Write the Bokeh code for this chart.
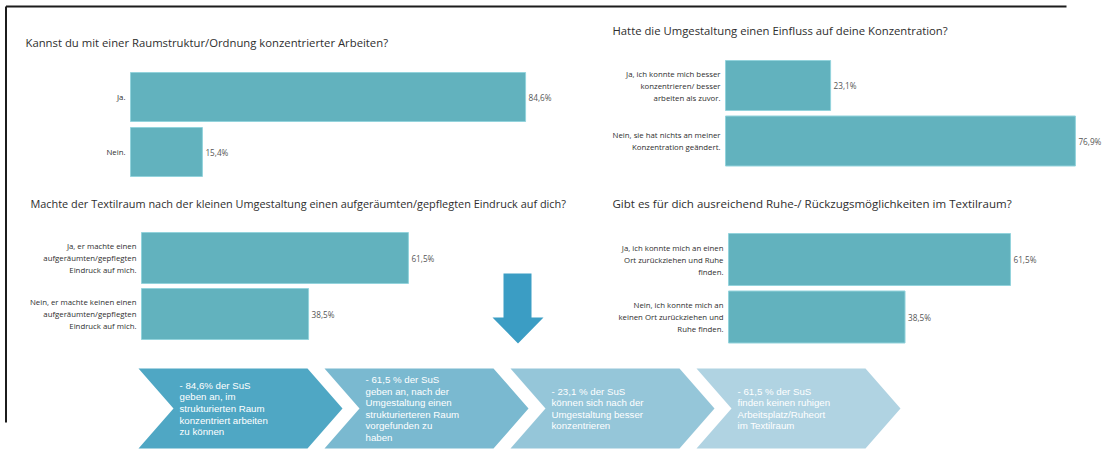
from bokeh.plotting import figure
from bokeh.models import Range1d, Label, ColumnDataSource
from bokeh.embed import file_html
from bokeh.resources import INLINE
from bokeh.core.properties import value

# ---------------- data ----------------
q1_title = "Kannst du mit einer Raumstruktur/Ordnung konzentrierter Arbeiten?"
q1_cats = ["Ja.", "Nein."]
q1_vals = [84.6, 15.4]

q2_title = "Hatte die Umgestaltung einen Einfluss auf deine Konzentration?"
q2_cats = ["Ja, ich konnte mich besser\nkonzentrieren/ besser\narbeiten als zuvor.",
           "Nein, sie hat nichts an meiner\nKonzentration geändert."]
q2_vals = [23.1, 76.9]

q3_title = ("Machte der Textilraum nach der kleinen Umgestaltung einen "
            "aufgeräumten/gepflegten Eindruck auf dich?")
q3_cats = ["Ja, er machte einen\naufgeräumten/gepflegten\nEindruck auf mich.",
           "Nein, er machte keinen einen\naufgeräumten/gepflegten\nEindruck auf mich."]
q3_vals = [61.5, 38.5]

q4_title = "Gibt es für dich ausreichend Ruhe-/ Rückzugsmöglichkeiten im Textilraum?"
q4_cats = ["Ja, ich konnte mich an einen\nOrt zurückziehen und Ruhe\nfinden.",
           "Nein, ich konnte mich an\nkeinen Ort zurückziehen und\nRuhe finden."]
q4_vals = [61.5, 38.5]

summary_texts = [
    "- 84,6% der SuS\ngeben an, im\nstrukturierten Raum\nkonzentriert arbeiten\nzu können",
    "- 61,5 % der SuS\ngeben an, nach der\nUmgestaltung einen\nstrukturierteren Raum\nvorgefunden zu\nhaben",
    "- 23,1 % der SuS\nkönnen sich nach der\nUmgestaltung besser\nkonzentrieren",
    "- 61,5 % der SuS\nfinden keinen ruhigen\nArbeitsplatz/Ruheort\nim Textilraum",
]
summary_colors = ["#4fa7c4", "#7ab9d0", "#95c6d9", "#b0d3e2"]

# ---------------- styles ----------------
BAR = "#62b2be"
ARROW = "#3b9dc4"
TXT = "#2e2e2e"
FRAME = "#1c1c1c"
FONT = "Open Sans"

W, H = 1106, 452
FX, FY = 5.5, 6          # frame line positions

# one canvas; default ranges are pixel space of the canvas (y downwards)
p = figure(width=W, height=H, x_range=Range1d(0, W), y_range=Range1d(H, 0),
           output_backend="svg", toolbar_location=None, min_border=0,
           x_axis_location=None, y_axis_location=None)
p.grid.visible = False
p.outline_line_color = None
p.background_fill_color = "white"
p.border_fill_color = "white"


def bar_chart(key, title, cats, vals, bar_left, ppp, c1, step, bar_px, title_xy, title_size):
    # each chart gets its own value scale (x) and category scale (y)
    xr, yr = key + "_x", key + "_y"
    p.extra_x_ranges[xr] = Range1d(-bar_left / ppp, (W - bar_left) / ppp)
    p.extra_y_ranges[yr] = Range1d(-(H - c1) / step, c1 / step)
    src = ColumnDataSource(dict(
        y=[-i for i in range(len(cats))], v=vals, cat=cats,
        lab=[f"{v:.1f}%".replace(".", ",") for v in vals]))
    p.hbar(y="y", left=0, right="v", height=bar_px / step, source=src,
           fill_color=BAR, line_color="#93d3dc", line_width=1,
           x_range_name=xr, y_range_name=yr)
    p.text(x=0, y="y", text="cat", source=src, x_offset=-5, text_align="right",
           text_baseline="middle", text_font=value(FONT), text_font_size="7.8px",
           text_line_height=1.2, text_color=TXT, x_range_name=xr, y_range_name=yr)
    p.text(x="v", y="y", text="lab", source=src, x_offset=3, text_align="left",
           text_baseline="middle", text_font=value(FONT), text_font_size="8.2px",
           text_color="#555555", x_range_name=xr, y_range_name=yr)
    tx, ty = title_xy
    p.add_layout(Label(x=tx, y=H - ty, x_units="screen", y_units="screen",
                       text=title, text_baseline="middle", text_align="left",
                       text_font=FONT, text_font_size=title_size, text_color=TXT))


bar_chart("q1", q1_title, q1_cats, q1_vals, bar_left=130, ppp=4.67, c1=96.5, step=55,
          bar_px=49, title_xy=(25, 42), title_size="11.3px")
bar_chart("q2", q2_title, q2_cats, q2_vals, bar_left=725, ppp=4.55, c1=85, step=55.5,
          bar_px=50, title_xy=(612, 30), title_size="11.3px")
bar_chart("q3", q3_title, q3_cats, q3_vals, bar_left=141, ppp=4.34, c1=257.5, step=56,
          bar_px=51, title_xy=(30, 203), title_size="10.9px")
bar_chart("q4", q4_title, q4_cats, q4_vals, bar_left=728, ppp=4.585, c1=259, step=57.5,
          bar_px=52, title_xy=(612, 203), title_size="11.5px")

# outer frame (top and left edges only)
p.segment(x0=[FX, FX], y0=[FY, FY], x1=[W - 40, FX], y1=[FY, H - 30],
          line_color=FRAME, line_width=2)

# down arrow (decoration)
ax = [503, 531, 531, 543, 517.5, 492, 503]
ay = [273, 273, 317, 317, 343, 317, 317]
p.patch(x=ax, y=ay, fill_color=ARROW, line_color=None)

# bottom process chevrons
CH_L, CH_STEP, CH_W, CH_D, CH_T, CH_B = 138, 186, 204, 35, 368, 448
CH_M = (CH_T + CH_B) / 2
xs, ys, tx, ty = [], [], [], []
for i in range(len(summary_texts)):
    L = CH_L + CH_STEP * i
    xs.append([L, L + CH_W - CH_D, L + CH_W, L + CH_W - CH_D, L, L + CH_D])
    ys.append([CH_T, CH_T, CH_M, CH_B, CH_B, CH_M])
    tx.append(L + 41)
    ty.append(CH_M)
csrc = ColumnDataSource(dict(xs=xs, ys=ys, color=summary_colors, x=tx, y=ty, t=summary_texts))
p.patches(xs="xs", ys="ys", fill_color="color", line_color=None, source=csrc)
p.text(x="x", y="y", text="t", source=csrc, text_align="left", text_baseline="middle",
       text_font=value("Liberation Sans"), text_font_size="9.7px", text_line_height=1.05,
       text_color="white")

open("out.html", "w").write(file_html(p, INLINE))
